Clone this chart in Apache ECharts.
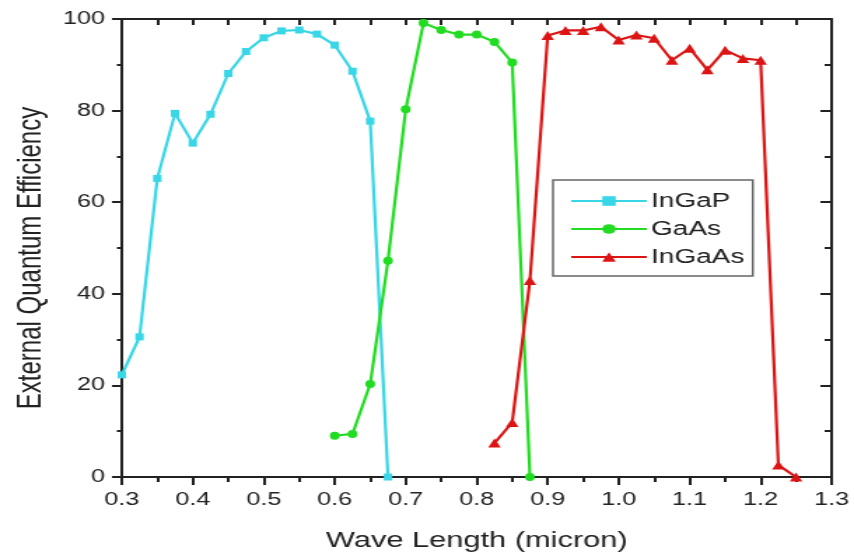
<!DOCTYPE html>
<html>
<head>
<meta charset="utf-8">
<script src="https://cdn.jsdelivr.net/npm/echarts@6/dist/echarts.min.js"></script>
<style>
  html, body { margin: 0; padding: 0; background: #fff; overflow: hidden; }
  #chart { width: 610px; height: 557px; transform: scaleX(1.4); transform-origin: 0 0; }
</style>
</head>
<body>
<div id="chart"></div>
<script>
// Wavelength (micron) and external quantum efficiency (%) for each sub-cell
const inGaPWave = [0.3, 0.325, 0.35, 0.375, 0.4, 0.425, 0.45, 0.475, 0.5, 0.525, 0.55, 0.575, 0.6, 0.625, 0.65, 0.675];
const inGaPEqe  = [22.3, 30.6, 65.2, 79.4, 72.9, 79.2, 88.1, 92.9, 95.9, 97.4, 97.6, 96.7, 94.3, 88.6, 77.7, 0];

const gaAsWave = [0.6, 0.625, 0.65, 0.675, 0.7, 0.725, 0.75, 0.775, 0.8, 0.825, 0.85, 0.875];
const gaAsEqe  = [9.0, 9.4, 20.3, 47.2, 80.3, 99.1, 97.6, 96.6, 96.6, 95.0, 90.5, 0];

const inGaAsWave = [0.825, 0.85, 0.875, 0.9, 0.925, 0.95, 0.975, 1.0, 1.025, 1.05, 1.075, 1.1, 1.125, 1.15, 1.175, 1.2, 1.225, 1.25];
const inGaAsEqe  = [7.4, 11.9, 42.9, 96.4, 97.5, 97.5, 98.3, 95.4, 96.5, 95.8, 91.0, 93.6, 88.9, 93.2, 91.4, 91.0, 2.6, 0];

const seriesNames = ['InGaP', 'GaAs', 'InGaAs'];
const xTitle = 'Wave Length (micron)';
const yTitle = 'External Quantum Efficiency';

const pairs = (xs, ys) => xs.map((x, i) => [x, ys[i]]);

const FONT = '"Liberation Sans", Arial, sans-serif';
const INK = '#222';

const chart = echarts.init(document.getElementById('chart'), null, { renderer: 'canvas' });

const baseAxisLine = { show: true, onZero: false, lineStyle: { color: INK, width: 2 } };

chart.setOption({
  animation: false,
  backgroundColor: '#fff',
  textStyle: { fontFamily: FONT, color: INK },
  grid: { left: 87, right: 16, top: 19, bottom: 80 },
  legend: {
    orient: 'vertical',
    left: 395,
    top: 180,
    data: seriesNames,
    padding: [11, 6, 9, 12],
    itemGap: 8,
    itemWidth: 54,
    itemHeight: 12,
    borderColor: '#666',
    borderWidth: 1.5,
    backgroundColor: '#fff',
    textStyle: { fontFamily: FONT, fontSize: 20, color: INK, padding: [0, 0, 0, -2] }
  },
  xAxis: [
    {
      type: 'value', position: 'bottom', min: 0.3, max: 1.3, interval: 0.1,
      name: xTitle, nameLocation: 'middle', nameGap: 53,
      nameTextStyle: { fontFamily: FONT, fontSize: 22, color: INK },
      axisLine: baseAxisLine,
      axisTick: { show: true, inside: false, length: 8, lineStyle: { color: INK, width: 2 } },
      minorTick: { show: true, splitNumber: 2, length: 5, lineStyle: { color: INK, width: 2 } },
      axisLabel: { fontFamily: FONT, fontSize: 18, color: INK, margin: 14,
                   formatter: v => v.toFixed(1) },
      splitLine: { show: false }
    },
    {
      type: 'value', position: 'top', min: 0.3, max: 1.3, interval: 0.1,
      axisLine: baseAxisLine,
      axisTick: { show: true, inside: true, length: 6, lineStyle: { color: INK, width: 2 } },
      minorTick: { show: true, splitNumber: 2, length: 6, lineStyle: { color: INK, width: 2 } },
      axisLabel: { show: false },
      splitLine: { show: false }
    }
  ],
  yAxis: [
    {
      type: 'value', position: 'left', min: 0, max: 100, interval: 20,
      name: yTitle, nameLocation: 'middle', nameGap: 52,
      nameTextStyle: { fontFamily: FONT, fontSize: 24, color: INK, padding: [0, 20, 0, 0] },
      axisLine: baseAxisLine,
      axisTick: { show: true, inside: false, length: 7, lineStyle: { color: INK, width: 2 } },
      minorTick: { show: true, splitNumber: 2, length: 3.5, lineStyle: { color: INK, width: 2 } },
      axisLabel: { fontFamily: FONT, fontSize: 18, color: INK, margin: 12 },
      splitLine: { show: false }
    },
    {
      type: 'value', position: 'right', min: 0, max: 100, interval: 20,
      axisLine: baseAxisLine,
      axisTick: { show: true, inside: true, length: 8, lineStyle: { color: INK, width: 2 } },
      minorTick: { show: true, splitNumber: 2, length: 5, lineStyle: { color: INK, width: 2 } },
      axisLabel: { show: false },
      splitLine: { show: false }
    }
  ],
  series: [
    {
      name: seriesNames[0], type: 'line', xAxisIndex: 0, yAxisIndex: 0,
      data: pairs(inGaPWave, inGaPEqe),
      symbol: 'rect', symbolSize: [6, 7], showAllSymbol: true,
      itemStyle: { color: '#38d6e6' },
      lineStyle: { color: '#38d6e6', width: 2.2 }
    },
    {
      name: seriesNames[1], type: 'line', xAxisIndex: 0, yAxisIndex: 0,
      data: pairs(gaAsWave, gaAsEqe),
      symbol: 'circle', symbolSize: [7, 8], showAllSymbol: true,
      itemStyle: { color: '#22dc22' },
      lineStyle: { color: '#22dc22', width: 2.2 }
    },
    {
      name: seriesNames[2], type: 'line', xAxisIndex: 0, yAxisIndex: 0,
      data: pairs(inGaAsWave, inGaAsEqe),
      symbol: 'triangle', symbolSize: [9, 9], showAllSymbol: true,
      itemStyle: { color: '#dc1414' },
      lineStyle: { color: '#dc1414', width: 2.2 }
    }
  ]
});
</script>
</body>
</html>
